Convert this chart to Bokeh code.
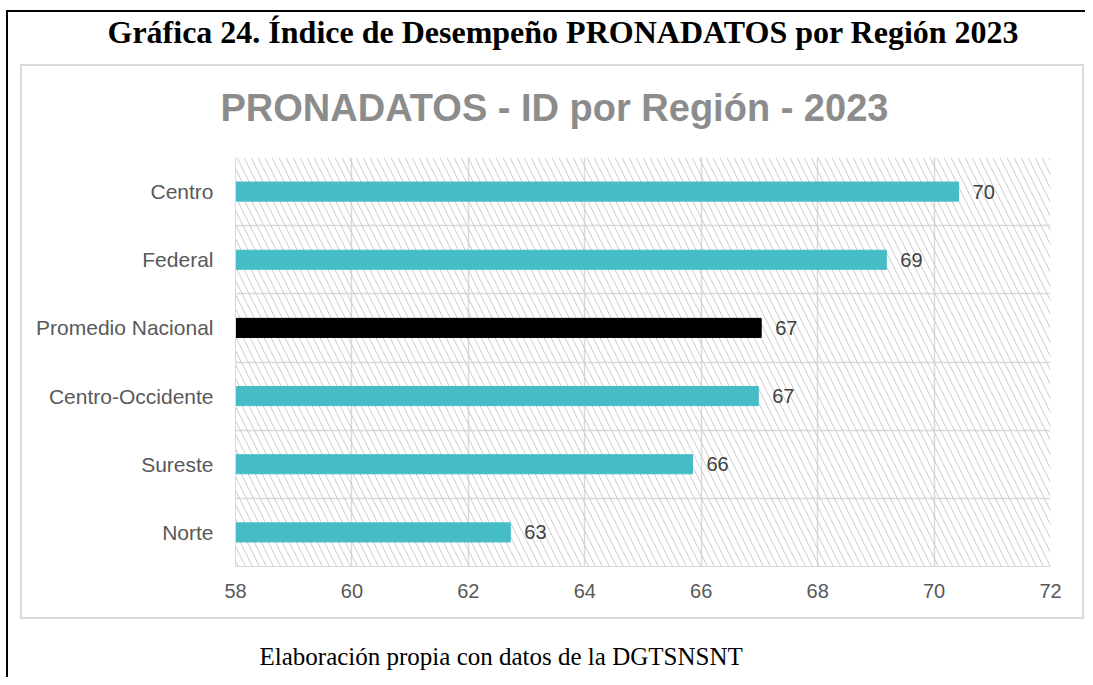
from bokeh.plotting import figure
from bokeh.models import (ColumnDataSource, FactorRange, Range1d, FixedTicker,
                          LabelSet, Title, BoxAnnotation, InlineStyleSheet)
from bokeh.core.properties import value
from bokeh.embed import file_html
from bokeh.resources import INLINE

# ---- data (top to bottom as in the chart) ----
regions = ["Centro", "Federal", "Promedio Nacional", "Centro-Occidente", "Sureste", "Norte"]
scores = [70.42, 69.18, 67.03, 66.98, 65.85, 62.72]
score_labels = ["70", "69", "67", "67", "66", "63"]
bar_colors = ["#46BCC6", "#46BCC6", "#000000", "#46BCC6", "#46BCC6", "#46BCC6"]
x_ticks = [58, 60, 62, 64, 66, 68, 70, 72]

outer_title = "Gráfica 24. Índice de Desempeño PRONADATOS por Región 2023"
chart_title = "PRONADATOS - ID por Región - 2023"
footer_text = "Elaboración propia con datos de la DGTSNSNT"

src = ColumnDataSource(dict(region=regions, score=scores, lab=score_labels, color=bar_colors))

W, H = 1085, 677
p = figure(width=W, height=H,
           y_range=FactorRange(factors=list(reversed(regions))),
           x_range=Range1d(58, 72),
           output_backend="svg", toolbar_location=None,
           min_border_left=235, min_border_right=35,
           min_border_top=157, min_border_bottom=111)
p.outline_line_color = None
p.background_fill_color = "white"
p.border_fill_color = "white"

# titles
p.title = Title(text=outer_title, align="left", offset=-128, standoff=11,
                text_font="Liberation Serif", text_font_style="bold",
                text_font_size="32px", text_color="black")
p.add_layout(Title(text=chart_title, align="left", offset=-15, standoff=58,
                   text_font="Liberation Sans", text_font_style="bold",
                   text_font_size="38px", text_color="#8c8c8c"), "above")

# hatched plot area
p.add_layout(BoxAnnotation(fill_alpha=0, line_color=None,
                           hatch_pattern="\\", hatch_color="#cccccc",
                           hatch_scale=14, hatch_weight=1, level="underlay"))

p.hbar(y="region", right="score", left=58, height=0.28, color="color", source=src)

p.add_layout(LabelSet(x="score", y="region", text="lab", source=src,
                      x_offset=14, y_offset=0, text_baseline="middle",
                      text_font=value("Liberation Sans"), text_font_size="20px",
                      text_color="#404040"))

# axes
p.xaxis.ticker = FixedTicker(ticks=x_ticks)
p.xaxis.axis_line_color = "#d9d9d9"
p.xaxis.major_tick_line_color = None
p.xaxis.minor_tick_line_color = None
p.xaxis.major_label_text_font = "Liberation Sans"
p.xaxis.major_label_text_font_size = "20px"
p.xaxis.major_label_text_color = "#595959"
p.xaxis.major_label_standoff = 11
# blank spacer between the axis and the footer note
p.xaxis.axis_label = " "
p.xaxis.axis_label_text_font_size = "1px"
p.xaxis.axis_label_standoff = 28

p.yaxis.axis_line_color = "#d9d9d9"
p.yaxis.major_tick_line_color = None
p.yaxis.major_label_text_font = "Liberation Sans"
p.yaxis.major_label_text_font_size = "21px"
p.yaxis.major_label_text_color = "#595959"
p.yaxis.major_label_standoff = 16

# footer
p.add_layout(Title(text=footer_text, align="left", offset=24, standoff=16,
                   text_font="Liberation Serif", text_font_style="normal",
                   text_font_size="25px", text_color="black"), "below")

# grids
p.xgrid.grid_line_color = "#d9d9d9"
p.xgrid.grid_line_width = 1.5
p.ygrid.ticker = FixedTicker(ticks=[0, 1, 2, 3, 4, 5, 6])
p.ygrid.grid_line_color = "#d9d9d9"
p.ygrid.grid_line_width = 1.5

# frame boxes (page decoration)
p.stylesheets = [InlineStyleSheet(css="""
:host { position: relative; }
:host::before { content: ""; position: absolute; left: 20px; top: 64px; width: 1064px; height: 555px;
  box-sizing: border-box; border: 2px solid #d9d9d9; pointer-events: none; z-index: 5; }
:host::after { content: ""; position: absolute; left: 6px; top: 10px; right: 0; bottom: 0;
  box-sizing: border-box; border-left: 2.5px solid #000; border-top: 2.5px solid #000;
  pointer-events: none; z-index: 5; }
""")]

open("out.html", "w").write(file_html(p, INLINE))
